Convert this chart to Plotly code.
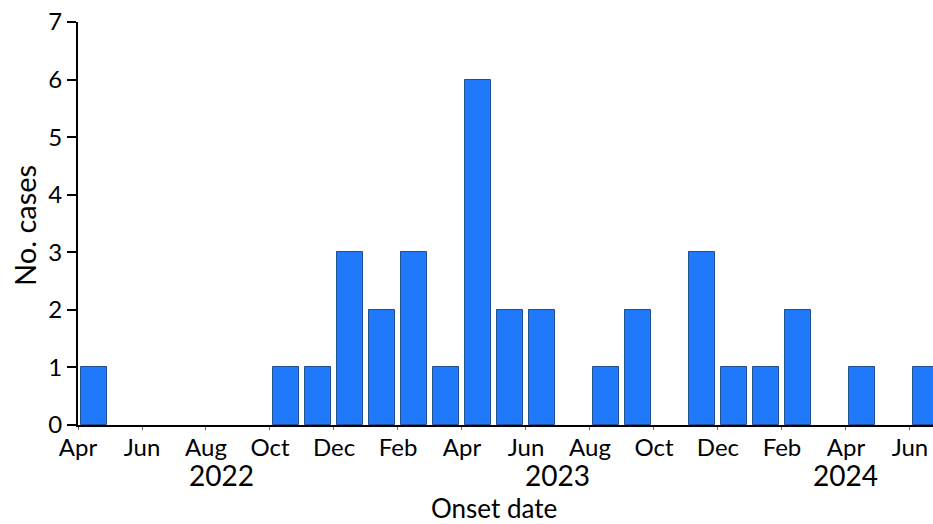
import plotly.graph_objects as go

months = ["2022-04", "2022-05", "2022-06", "2022-07", "2022-08", "2022-09", "2022-10",
          "2022-11", "2022-12", "2023-01", "2023-02", "2023-03", "2023-04", "2023-05",
          "2023-06", "2023-07", "2023-08", "2023-09", "2023-10", "2023-11", "2023-12",
          "2024-01", "2024-02", "2024-03", "2024-04", "2024-05", "2024-06"]
cases = [1, 0, 0, 0, 0, 0, 1, 1, 3, 2, 3, 1, 6, 2, 2, 0, 1, 2, 0, 3, 1, 1, 2, 0, 1, 0, 1]
tick_labels = ["Apr", "Jun", "Aug", "Oct", "Dec", "Feb", "Apr", "Jun", "Aug", "Oct",
               "Dec", "Feb", "Apr", "Jun"]
years = ["2022", "2023", "2024"]
y_ticks = [0, 1, 2, 3, 4, 5, 6, 7]

FONT = "Lato, 'Noto Sans', sans-serif"
W, H = 933, 524
L, R, T, B = 78, 0, 22, 99
plot_w = W - L - R
plot_h = H - T - B

def px_x(px):
    return (px - L) / plot_w

def px_y(py):
    return (H - B - py) / plot_h

x_centers = [i + 0.5 for i in range(len(months))]
bar_vals = [c if c > 0 else None for c in cases]
tick_positions = list(range(0, len(months), 2))

year_spans = {}
for i, m in enumerate(months):
    y = m[:4]
    year_spans.setdefault(y, [i, i + 1])
    year_spans[y][1] = i + 1
year_centers = [(year_spans[y][0] + year_spans[y][1]) / 2 for y in years]

fig = go.Figure()
fig.add_trace(go.Bar(
    x=x_centers, y=bar_vals, width=0.84,
    marker=dict(color="#2079fb", line=dict(color="#1f4f8f", width=1)),
    showlegend=False, hoverinfo="y",
))

fig.update_layout(
    width=W, height=H,
    margin=dict(l=L, r=R, t=T, b=B, autoexpand=False),
    paper_bgcolor="white", plot_bgcolor="white",
    font=dict(family=FONT, color="black", size=22),
    xaxis=dict(
        range=[0, 26.72], tickmode="array", tickvals=tick_positions, ticktext=tick_labels,
        showline=True, linecolor="black", linewidth=2, ticks="", ticklen=0,
        showgrid=False, zeroline=False, automargin=False,
        tickfont=dict(size=24, family=FONT, color="black"),
        minor=dict(tickmode="array", tickvals=tick_positions, ticks="outside", ticklen=3,
                   tickwidth=1, tickcolor="#666", showgrid=False),
    ),
    yaxis=dict(
        range=[0, 7], tickmode="array", tickvals=y_ticks,
        showline=True, linecolor="black", linewidth=2, ticks="outside", ticklen=9,
        tickwidth=2, tickcolor="black", showgrid=False, zeroline=False, automargin=False,
        tickfont=dict(size=24, family=FONT, color="black"),
    ),
    bargap=0,
)

for yr, xc in zip(years, year_centers):
    fig.add_annotation(x=xc, xref="x", y=px_y(475), yref="paper", xanchor="center",
                       yanchor="middle", text=yr, showarrow=False, borderpad=0,
                       font=dict(size=28, family=FONT, color="black"))

fig.add_annotation(x=px_x(494), xref="paper", y=px_y(508), yref="paper", xanchor="center",
                   yanchor="middle", text="Onset date", showarrow=False, borderpad=0,
                   font=dict(size=26, family=FONT, color="black"))
fig.add_annotation(x=px_x(24), xref="paper", y=px_y(226), yref="paper", xanchor="center",
                   yanchor="middle", text="No. cases", showarrow=False, textangle=-90,
                   font=dict(size=29, family=FONT, color="black"))

fig.write_html("out.html", config={"displayModeBar": False},
               post_script="document.body.style.margin='0';document.body.style.overflow='hidden';")
